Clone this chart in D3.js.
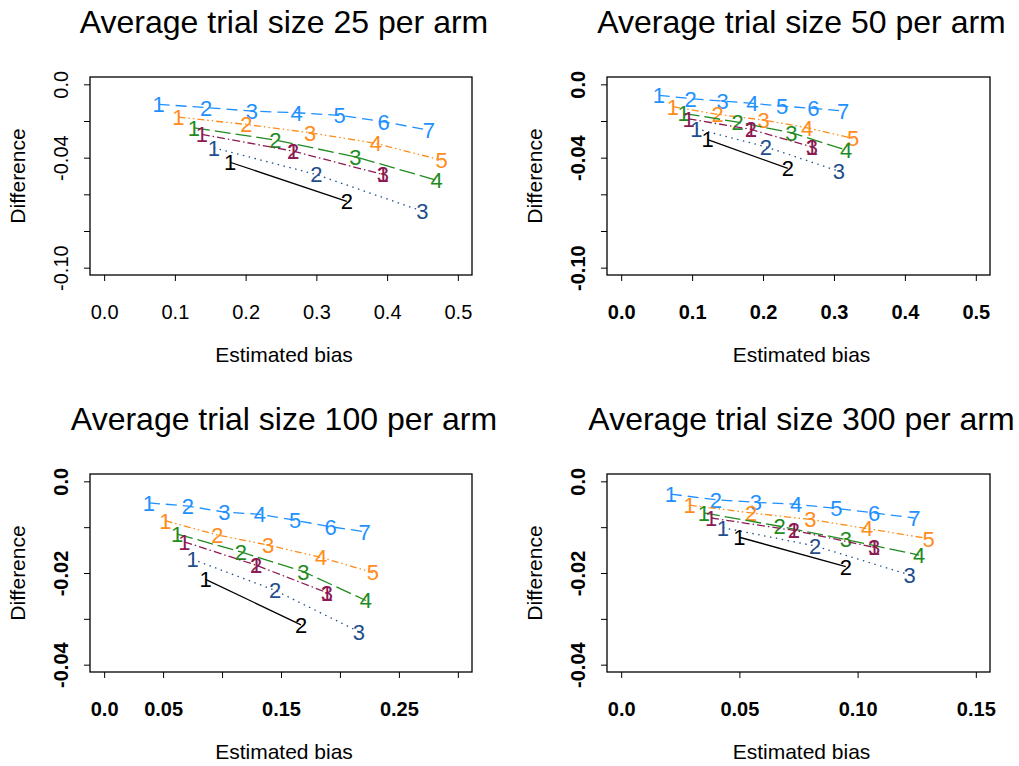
<!DOCTYPE html>
<html><head><meta charset="utf-8">
<script src="https://cdn.jsdelivr.net/npm/d3@7"></script>
<style>body{margin:0;background:#fff}</style></head>
<body>
<svg id="c" width="1019" height="766"></svg>
<script>
// ---------- DATA ----------
const panelTitles = ["Average trial size 25 per arm","Average trial size 50 per arm","Average trial size 100 per arm","Average trial size 300 per arm"];
const seriesNames = ["s7","s5","s4","s3a","s3b","s2"];

// estimated bias (x) per series, per panel
const bias25 = [
  [0.077,0.144,0.209,0.272,0.333,0.395,0.459],
  [0.105,0.201,0.291,0.384,0.477],
  [0.127,0.242,0.355,0.470],
  [0.138,0.267,0.394],
  [0.155,0.300,0.450],
  [0.178,0.343]
];
const diff25 = [
  [-0.0109,-0.0127,-0.0146,-0.0155,-0.0169,-0.0204,-0.0250],
  [-0.0179,-0.0219,-0.0264,-0.0322,-0.0414],
  [-0.0237,-0.0304,-0.0395,-0.0523],
  [-0.0273,-0.0364,-0.0492],
  [-0.0346,-0.0492,-0.0692],
  [-0.0425,-0.0638]
];
const bias50 = [
  [0.053,0.098,0.143,0.185,0.227,0.271,0.313],
  [0.073,0.136,0.201,0.262,0.327],
  [0.088,0.164,0.240,0.317],
  [0.095,0.183,0.269],
  [0.106,0.204,0.307],
  [0.122,0.235]
];
const diff50 = [
  [-0.0060,-0.0078,-0.0091,-0.0104,-0.0119,-0.0131,-0.0146],
  [-0.0122,-0.0164,-0.0195,-0.0237,-0.0295],
  [-0.0158,-0.0206,-0.0264,-0.0359],
  [-0.0188,-0.0246,-0.0341],
  [-0.0242,-0.0341,-0.0474],
  [-0.0301,-0.0459]
];
const bias100 = [
  [0.038,0.071,0.102,0.132,0.162,0.192,0.221],
  [0.052,0.096,0.139,0.184,0.228],
  [0.062,0.116,0.169,0.222],
  [0.068,0.129,0.189],
  [0.075,0.145,0.216],
  [0.086,0.167]
];
const diff100 = [
  [-0.0047,-0.0054,-0.0067,-0.0072,-0.0085,-0.0099,-0.0110],
  [-0.0086,-0.0117,-0.0139,-0.0166,-0.0199],
  [-0.0115,-0.0154,-0.0197,-0.0260],
  [-0.0132,-0.0183,-0.0243],
  [-0.0170,-0.0238,-0.0328],
  [-0.0214,-0.0313]
];
const bias300 = [
  [0.021,0.040,0.057,0.074,0.091,0.107,0.124],
  [0.029,0.055,0.080,0.104,0.130],
  [0.035,0.067,0.095,0.126],
  [0.038,0.073,0.107],
  [0.043,0.082,0.122],
  [0.050,0.095]
];
const diff300 = [
  [-0.0028,-0.0040,-0.0046,-0.0050,-0.0059,-0.0069,-0.0080],
  [-0.0052,-0.0069,-0.0083,-0.0103,-0.0125],
  [-0.0069,-0.0098,-0.0127,-0.0161],
  [-0.0080,-0.0107,-0.0144],
  [-0.0101,-0.0141,-0.0204],
  [-0.0122,-0.0186]
];
// extra "1" labels overprinted on series s3a at these point indices
const overprintSeries = 3;
const overprintIdx = [1,2];
const overprintLabel = "1";

const xLim = [[0,0.5],[0,0.5],[0,0.3],[0,0.15]];
const yLim = [[-0.10,0],[-0.10,0],[-0.04,0],[-0.04,0]];
const xTicks = [[0,0.1,0.2,0.3,0.4,0.5],[0,0.1,0.2,0.3,0.4,0.5],[0,0.05,0.1,0.15,0.2,0.25,0.3],[0,0.05,0.1,0.15]];
const xTickLabels = [["0.0","0.1","0.2","0.3","0.4","0.5"],["0.0","0.1","0.2","0.3","0.4","0.5"],["0.0","0.05","","0.15","","0.25",""],["0.0","0.05","0.10","0.15"]];
const yTicks = [[0,-0.02,-0.04,-0.06,-0.08,-0.10],[0,-0.02,-0.04,-0.06,-0.08,-0.10],[0,-0.01,-0.02,-0.03,-0.04],[0,-0.01,-0.02,-0.03,-0.04]];
const yTickLabels = [["0.0","","-0.04","","","-0.10"],["0.0","","-0.04","","","-0.10"],["0.0","","-0.02","","-0.04"],["0.0","","-0.02","","-0.04"]];
const xTitle = "Estimated bias";
const yTitle = "Difference";

// ---------- STYLE / LAYOUT ----------
const colors = ["#1E90FF","#FF8C1A","#1F8B1F","#8B1A52","#1F4E8C","#000000"];
const dashes = ["11,6","7,3,1.5,3,1.5,3","16,5","8,3,1.5,3","1.5,4.5",null];
const boxes = [{l:90,r:472,t:77,b:275},{l:607,r:990,t:77,b:275},{l:90,r:472,t:474,b:672},{l:607,r:990,t:474,b:672}];
const tickBold = [false,true,true,true];
const FONT = "'Liberation Sans', Arial, Helvetica, sans-serif";

const allBias = [bias25,bias50,bias100,bias300];
const allDiff = [diff25,diff50,diff100,diff300];

const svg = d3.select("#c");
svg.append("rect").attr("width",1019).attr("height",766).attr("fill","#fff");

function expand(lim){ const d=(lim[1]-lim[0])*0.04; return [lim[0]-d, lim[1]+d]; }

boxes.forEach((bx,p)=>{
  const x = d3.scaleLinear().domain(expand(xLim[p])).range([bx.l,bx.r]);
  const y = d3.scaleLinear().domain(expand(yLim[p])).range([bx.b,bx.t]);
  const g = svg.append("g");

  // title
  g.append("text").attr("x",(bx.l+bx.r)/2+3).attr("y",bx.t-44)
    .attr("text-anchor","middle").attr("font-family",FONT).attr("font-size",32)
    .attr("fill","#000").text(panelTitles[p]);

  // x axis
  const xa = g.append("g").attr("transform",`translate(0,${bx.b})`)
    .call(d3.axisBottom(x).tickValues(xTicks[p]).tickFormat((d,i)=>xTickLabels[p][i]).tickSize(6));
  xa.select(".domain").remove();
  xa.selectAll(".tick line").attr("stroke","#000");
  xa.selectAll(".tick text").attr("y",44).attr("dy",0)
    .attr("font-family",FONT).attr("font-size",20).attr("fill","#000")
    .attr("font-weight",tickBold[p]?"bold":"normal");

  // y axis
  const ya = g.append("g").attr("transform",`translate(${bx.l},0)`)
    .call(d3.axisLeft(y).tickValues(yTicks[p]).tickFormat((d,i)=>yTickLabels[p][i]).tickSize(6));
  ya.select(".domain").remove();
  ya.selectAll(".tick line").attr("stroke","#000");
  ya.selectAll(".tick text").attr("x",0).attr("y",0).attr("dy",0)
    .attr("text-anchor","middle").attr("transform","translate(-22,0) rotate(-90)")
    .attr("font-family",FONT).attr("font-size",20).attr("fill","#000")
    .attr("font-weight",tickBold[p]?"bold":"normal");

  // box
  g.append("rect").attr("x",bx.l).attr("y",bx.t).attr("width",bx.r-bx.l).attr("height",bx.b-bx.t)
    .attr("fill","none").attr("stroke","#000").attr("stroke-width",1.3);

  // axis titles
  g.append("text").attr("x",(bx.l+bx.r)/2+3).attr("y",bx.b+87).attr("text-anchor","middle")
    .attr("font-family",FONT).attr("font-size",21).attr("fill","#000").text(xTitle);
  g.append("text").attr("transform",`translate(${bx.l-65},${(bx.t+bx.b)/2}) rotate(-90)`)
    .attr("text-anchor","middle").attr("font-family",FONT).attr("font-size",21).attr("fill","#000").text(yTitle);

  // series
  const line = d3.line().x(d=>x(d[0])).y(d=>y(d[1]));
  seriesNames.forEach((nm,s)=>{
    const pts = allBias[p][s].map((b,i)=>[b, allDiff[p][s][i]]);
    g.append("path").attr("d",line(pts)).attr("fill","none")
      .attr("stroke",colors[s]).attr("stroke-width",1.3)
      .attr("stroke-dasharray",dashes[s]);
    g.selectAll(null).data(pts).enter().append("text")
      .attr("x",d=>x(d[0])).attr("y",d=>y(d[1])).attr("dy","0.36em")
      .attr("text-anchor","middle").attr("font-family",FONT).attr("font-size",22)
      .attr("fill",colors[s]).text((d,i)=>String(i+1));
  });
  // overprinted labels
  overprintIdx.forEach(i=>{
    g.append("text").attr("x",x(allBias[p][overprintSeries][i])).attr("y",y(allDiff[p][overprintSeries][i]))
      .attr("dy","0.36em").attr("text-anchor","middle").attr("font-family",FONT).attr("font-size",22)
      .attr("fill",colors[overprintSeries]).text(overprintLabel);
  });
});
</script>
</body></html>
